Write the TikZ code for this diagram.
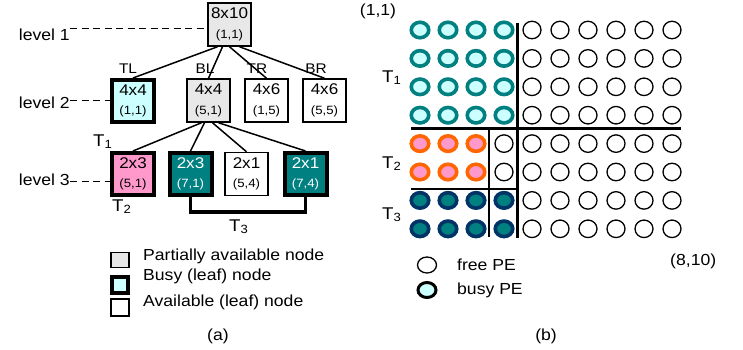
\documentclass[tikz,border=0pt]{standalone}
\usepackage{fontspec}
\setmainfont{Liberation Sans}[FakeStretch=1.1]
\usetikzlibrary{shapes.geometric}
\definecolor{lgrey}{HTML}{E8E8E8}
\definecolor{lcyan}{HTML}{CCFFFF}
\definecolor{pinkc}{HTML}{FF99CC}
\definecolor{tealc}{HTML}{008080}
\definecolor{orangec}{HTML}{FF6600}
\definecolor{navyc}{HTML}{003366}
\newcommand\bt[2]{#1\\[3.5pt]{\fontsize{12}{14}\selectfont #2}}
\tikzset{
  box/.style={draw, line width=1.5pt, minimum width=43pt, minimum height=43pt, inner sep=0pt, align=center, font=\fontsize{15.5}{16}\selectfont},
  busybox/.style={box, line width=4pt, minimum width=42pt, minimum height=42pt},
  edge/.style={line width=1.5pt},
  lvl/.style={font=\fontsize{16}{18}\selectfont, inner sep=0pt, anchor=base east},
  lbl/.style={font=\fontsize{16}{18}\selectfont, inner sep=0pt, anchor=base west},
  tlab/.style={font=\fontsize{17}{18}\selectfont, inner sep=0pt, anchor=base west},
  dir/.style={font=\fontsize{14}{16}\selectfont, inner sep=0pt, anchor=base},
  dashln/.style={line width=1.3pt, dash pattern=on 7pt off 4.5pt},
  freepe/.style={ellipse, draw, line width=1.3pt, minimum width=18pt, minimum height=17.5pt, inner sep=0pt},
  busype/.style={ellipse, draw, line width=3.6pt, minimum width=17.5pt, minimum height=15.5pt, inner sep=0pt},
}
\begin{document}
\begin{tikzpicture}[x=1pt,y=-1pt]
\useasboundingbox (0,0) rectangle (743,349);
% ---------- tree (a)
\node[box, fill=lgrey] (root) at (229.5,24.5) {\bt{8x10}{(1,1)}};
\node[busybox, fill=lcyan] (tl) at (133,101) {\bt{4x4}{(1,1)}};
\node[box, fill=lgrey] (bl) at (208.5,100.5) {\bt{4x4}{(5,1)}};
\node[box] (tr) at (266.5,100.5) {\bt{4x6}{(1,5)}};
\node[box] (br) at (324.5,100.5) {\bt{4x6}{(5,5)}};
\node[busybox, fill=pinkc] (p23) at (133,174) {\bt{2x3}{(5,1)}};
\node[busybox, fill=tealc, text=white] (t23) at (190.5,174) {\bt{2x3}{(7,1)}};
\node[box] (w21) at (246.5,174) {\bt{2x1}{(5,4)}};
\node[busybox, fill=tealc, text=white] (t21) at (305.5,174) {\bt{2x1}{(7,4)}};

\draw[edge] ([xshift=-12pt]root.south) -- (tl.north);
\draw[edge] ([xshift=-7pt]root.south) -- (bl.north);
\draw[edge] ([xshift=0pt]root.south) -- (tr.north);
\draw[edge] ([xshift=10pt]root.south) -- (br.north);
\draw[edge] ([xshift=-7pt]bl.south) -- (p23.north);
\draw[edge] ([xshift=-4pt]bl.south) -- (t23.north);
\draw[edge] ([xshift=4pt]bl.south) -- (w21.north);
\draw[edge] ([xshift=10pt]bl.south) -- (t21.north);
\draw[line width=3.5pt] (t23.south) -- ++(0,15) -| (t21.south);

\node[dir] (dTL) at (128,73) {TL};
\node[dir] (dBL) at (205,73) {BL};
\node[dir] (dTR) at (257,73) {TR};
\node[dir] (dBR) at (316,73) {BR};

\node[lvl] (l1) at (70,40) {level 1};
\node[lvl] (l2) at (70,108) {level 2};
\node[lvl] (l3) at (70,185) {level 3};
\draw[dashln] ([yshift=6pt]l1.east) -- ([yshift=6pt]l1.east -| root.west);
\draw[dashln] ([yshift=2pt]l2.east) -- ([yshift=2pt]l2.east -| tl.west);
\draw[dashln] ([yshift=-2pt]l3.east) -- ([yshift=-2pt]l3.east -| p23.west);

\node[tlab] (aT1) at (93,146) {T\textsubscript{1}};
\node[tlab] (aT2) at (112,211) {T\textsubscript{2}};
\node[tlab] (aT3) at (229,231) {T\textsubscript{3}};

% legend (a)
\node[draw, line width=1.5pt, fill=lgrey, minimum width=18pt, minimum height=15pt, inner sep=0pt] (lg1) at (120,260) {};
\node[draw, line width=4pt, fill=lcyan, minimum width=16pt, minimum height=16pt, inner sep=0pt] (lg2) at (120,285) {};
\node[draw, line width=1.5pt, minimum width=18pt, minimum height=17pt, inner sep=0pt] (lg3) at (120,307.5) {};
\node[lbl] (lt1) at (143,260) {Partially available node};
\node[lbl] (lt2) at (143,280) {Busy (leaf) node};
\node[lbl] (lt3) at (143,306) {Available (leaf) node};
\node[font=\fontsize{16}{18}\selectfont, inner sep=0pt, anchor=base] (capa) at (218,340) {(a)};

% ---------- grid (b)
\foreach \r in {0,...,7}{
  \foreach \c in {0,...,9}{
    \pgfmathsetmacro\xx{420+28*\c}
    \pgfmathsetmacro\yy{30+28.4*\r}
    \ifnum\r<4
      \ifnum\c<4
        \node[busype, draw=tealc, fill=lcyan] (pe-\r-\c) at (\xx,\yy) {};
      \else
        \node[freepe] (pe-\r-\c) at (\xx,\yy) {};
      \fi
    \else\ifnum\r<6
      \ifnum\c<3
        \node[busype, draw=orangec, fill=pinkc] (pe-\r-\c) at (\xx,\yy) {};
      \else
        \node[freepe] (pe-\r-\c) at (\xx,\yy) {};
      \fi
    \else
      \ifnum\c<4
        \node[busype, draw=navyc, fill=tealc] (pe-\r-\c) at (\xx,\yy) {};
      \else
        \node[freepe] (pe-\r-\c) at (\xx,\yy) {};
      \fi
    \fi\fi
  }
}
\coordinate (vt) at (517,23);
\coordinate (vb) at (517,238);
\coordinate (hl) at (411,128.3);
\coordinate (hr) at (681,128.3);
\coordinate (tvb) at (489,237);
\coordinate (thl) at (411,189);
\draw[line width=3pt] (vt) -- (vb);
\draw[line width=3pt] (hl) -- (hr);
\draw[line width=1.5pt] (hl -| tvb) -- (tvb);
\draw[line width=1.5pt] (thl) -- (thl -| vt);

\node[tlab] (bT1) at (382,82) {T\textsubscript{1}};
\node[tlab] (bT2) at (382,168) {T\textsubscript{2}};
\node[tlab] (bT3) at (382,219) {T\textsubscript{3}};
\node[lbl, anchor=base] (c11) at (378,15) {(1,1)};
\node[lbl] (c810) at (670,265) {(8,10)};

\node[ellipse, draw, line width=1.3pt, minimum width=19pt, minimum height=16pt, inner sep=0pt] (lgf) at (427,265) {};
\node[ellipse, draw, line width=3pt, fill=lcyan, minimum width=18pt, minimum height=15pt, inner sep=0pt] (lgb) at (427,290) {};
\node[lbl] (lf) at (457,270) {free PE};
\node[lbl] (lb) at (457,294) {busy PE};
\node[font=\fontsize{16}{18}\selectfont, inner sep=0pt, anchor=base] (capb) at (546,340) {(b)};
\end{tikzpicture}
\end{document}
